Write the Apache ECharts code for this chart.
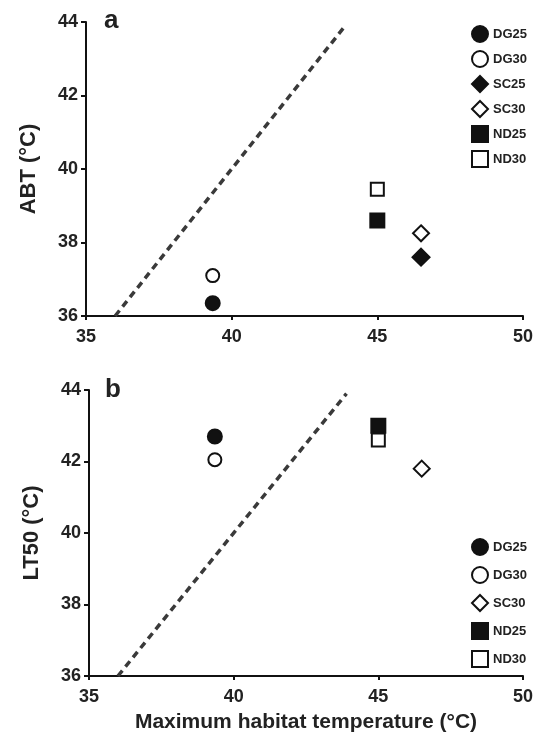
<!DOCTYPE html>
<html>
<head>
<meta charset="utf-8">
<script src="https://cdn.jsdelivr.net/npm/echarts@6/dist/echarts.min.js"></script>
<style>html,body{margin:0;padding:0;background:#fff}#c{width:536px;height:749px}</style>
</head>
<body>
<div id="c"></div>
<script>
// Panel a: ABT vs maximum habitat temperature
const groupsA = ['DG25', 'DG30', 'SC25', 'SC30', 'ND25', 'ND30'];
const habitatTempA = [39.35, 39.35, 46.5, 46.5, 45.0, 45.0];
const abtValues = [36.35, 37.1, 37.6, 38.25, 38.6, 39.45];
// Panel b: LT50 vs maximum habitat temperature
const groupsB = ['DG25', 'DG30', 'SC30', 'ND25', 'ND30'];
const habitatTempB = [39.35, 39.35, 46.5, 45.0, 45.0];
const lt50Values = [42.7, 42.05, 41.8, 43.0, 42.6];
// 1:1 reference line (x = y)
const refLineX = [36, 43.9];
const refLineY = [36, 43.9];
const xTicks = [35, 40, 45, 50];
const yTicks = [36, 38, 40, 42, 44];

const styles = {
  DG25: { symbol: 'circle', size: 14, fill: '#111' },
  DG30: { symbol: 'circle', size: 13, fill: '#fff' },
  SC25: { symbol: 'diamond', size: 17, fill: '#111' },
  SC30: { symbol: 'diamond', size: 16, fill: '#fff' },
  ND25: { symbol: 'rect', size: 14, fill: '#111' },
  ND30: { symbol: 'rect', size: 13, fill: '#fff' }
};

const FONT = '"Liberation Sans", Arial, sans-serif';

function axisX(gridIndex, name) {
  return {
    type: 'value', gridIndex, min: xTicks[0], max: xTicks[xTicks.length - 1], interval: 5,
    name: name || '', nameLocation: 'middle', nameGap: 36,
    nameTextStyle: { fontFamily: FONT, fontSize: 21, fontWeight: 'bold', color: '#222' },
    axisLine: { show: true, lineStyle: { color: '#111', width: 2 } },
    axisTick: { show: true, length: 4, lineStyle: { color: '#111', width: 2 } },
    axisLabel: { fontFamily: FONT, fontSize: 18, fontWeight: 'bold', color: '#222', margin: 12 },
    splitLine: { show: false }
  };
}
function axisY(gridIndex, name) {
  return {
    type: 'value', gridIndex, min: yTicks[0], max: yTicks[yTicks.length - 1], interval: 2,
    name, nameLocation: 'middle', nameGap: 46,
    nameTextStyle: { fontFamily: FONT, fontSize: 22, fontWeight: 'bold', color: '#222' },
    axisLine: { show: true, lineStyle: { color: '#111', width: 2 } },
    axisTick: { show: true, length: 5, lineStyle: { color: '#111', width: 2 } },
    axisLabel: { fontFamily: FONT, fontSize: 18, fontWeight: 'bold', color: '#222', margin: 8 },
    splitLine: { show: false }
  };
}

function scatterSeries(groups, xs, ys, idx) {
  return groups.map((g, i) => {
    const s = styles[g];
    return {
      name: g, type: 'scatter', xAxisIndex: idx, yAxisIndex: idx,
      symbol: s.symbol, symbolSize: s.size,
      itemStyle: { color: s.fill, borderColor: '#111', borderWidth: 2, opacity: 1 },
      data: [[xs[i], ys[i]]], z: 5
    };
  });
}

function refLine(idx) {
  return {
    type: 'line', xAxisIndex: idx, yAxisIndex: idx, symbol: 'none', silent: true,
    lineStyle: { color: '#3a3a3a', width: 3.5, type: [7, 5] },
    data: refLineX.map((x, i) => [x, refLineY[i]]), z: 2
  };
}

const legendCommon = {
  orient: 'vertical', left: 466, itemWidth: 16, itemHeight: 16,
  textStyle: { fontFamily: FONT, fontSize: 13, fontWeight: 'bold', color: '#222' },
  selectedMode: false
};

const option = {
  backgroundColor: '#fff',
  animation: false,
  title: [
    { text: 'a', left: 99, top: 3, textStyle: { fontFamily: FONT, fontSize: 26, fontWeight: 'bold', color: '#222' } },
    { text: 'b', left: 100, top: 372, textStyle: { fontFamily: FONT, fontSize: 26, fontWeight: 'bold', color: '#222' } }
  ],
  grid: [
    { left: 86, top: 22, width: 439, height: 294 },
    { left: 89, top: 390, width: 435, height: 286 }
  ],
  xAxis: [axisX(0), axisX(1, 'Maximum habitat temperature (°C)')],
  yAxis: [axisY(0, 'ABT (°C)'), axisY(1, 'LT50 (°C)')],
  legend: [
    Object.assign({}, legendCommon, { top: 20, itemGap: 7, data: groupsA }),
    Object.assign({}, legendCommon, { top: 533, itemGap: 10, data: groupsB })
  ],
  series: [
    refLine(0),
    refLine(1),
    ...scatterSeries(groupsA, habitatTempA, abtValues, 0),
    ...scatterSeries(groupsB, habitatTempB, lt50Values, 1)
  ]
};

echarts.init(document.getElementById('c'), null, { renderer: 'canvas' }).setOption(option);
</script>
</body>
</html>
